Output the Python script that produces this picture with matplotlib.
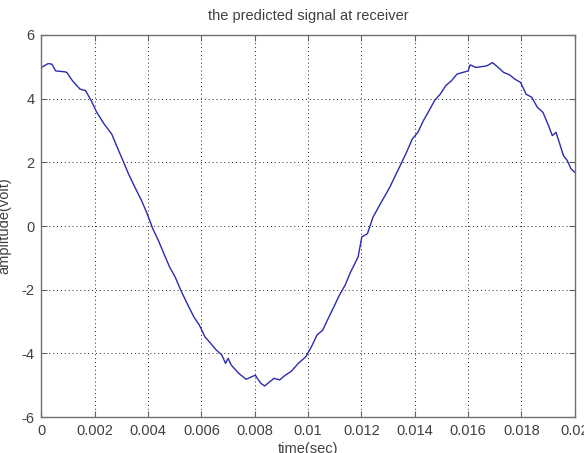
import matplotlib
matplotlib.use("Agg")
import matplotlib.pyplot as plt

plt.rcParams['font.family'] = ['Liberation Sans', 'DejaVu Sans']
plt.rcParams['axes.unicode_minus'] = False

# values
time_sec = [0.0, 0.000252, 0.000392, 0.000532, 0.000882, 0.000952, 0.001162, 0.001443,
            0.001653, 0.001863, 0.002073, 0.002353, 0.002633, 0.002843, 0.003053, 0.003263,
            0.003473, 0.003754, 0.003964, 0.004174, 0.004384, 0.004594, 0.004804, 0.005014,
            0.005224, 0.005434, 0.005714, 0.005924, 0.006134, 0.006345, 0.006555, 0.006765,
            0.006905, 0.007003, 0.007115, 0.007395, 0.007675, 0.007885, 0.008025, 0.008095,
            0.008235, 0.008375, 0.008515, 0.008725, 0.008936, 0.009146, 0.009356, 0.009636,
            0.009916, 0.010126, 0.010336, 0.010546, 0.010756, 0.010966, 0.011176, 0.011387,
            0.011597, 0.011877, 0.012017, 0.012227, 0.012437, 0.012647, 0.012857, 0.013067,
            0.013277, 0.013487, 0.013697, 0.013908, 0.014118, 0.014328, 0.014538, 0.014748,
            0.014958, 0.015168, 0.015378, 0.015588, 0.015798, 0.016008, 0.016078, 0.016289,
            0.016499, 0.016709, 0.016919, 0.017129, 0.017339, 0.017549, 0.017759, 0.017969,
            0.018179, 0.018389, 0.018599, 0.018810, 0.019020, 0.019160, 0.019300, 0.019440,
            0.019580, 0.019720, 0.019860, 0.020000]
amplitude = [4.98, 5.10, 5.08, 4.87, 4.84, 4.82, 4.56, 4.30,
             4.25, 3.94, 3.57, 3.20, 2.89, 2.47, 2.06, 1.64,
             1.27, 0.80, 0.39, -0.08, -0.45, -0.87, -1.28, -1.60,
             -2.01, -2.38, -2.85, -3.11, -3.48, -3.68, -3.89, -4.05,
             -4.31, -4.15, -4.36, -4.62, -4.81, -4.73, -4.68, -4.78,
             -4.94, -5.02, -4.92, -4.78, -4.83, -4.68, -4.57, -4.31,
             -4.10, -3.79, -3.42, -3.27, -2.90, -2.54, -2.17, -1.86,
             -1.44, -0.97, -0.34, -0.24, 0.28, 0.60, 0.91, 1.22,
             1.59, 1.95, 2.32, 2.73, 2.94, 3.31, 3.62, 3.94,
             4.14, 4.41, 4.56, 4.77, 4.82, 4.87, 5.06, 4.98,
             5.00, 5.03, 5.13, 4.98, 4.82, 4.75, 4.61, 4.51,
             4.14, 4.04, 3.73, 3.57, 3.15, 2.84, 2.94, 2.58,
             2.21, 2.06, 1.80, 1.69]

x_ticks = [0, 0.002, 0.004, 0.006, 0.008, 0.01, 0.012, 0.014, 0.016, 0.018, 0.02]
x_tick_labels = ["0", "0.002", "0.004", "0.006", "0.008", "0.01", "0.012",
                 "0.014", "0.016", "0.018", "0.02"]
y_ticks = [-6, -4, -2, 0, 2, 4, 6]
y_tick_labels = ["-6", "-4", "-2", "0", "2", "4", "6"]

text_grey = "#404040"

fig = plt.figure(figsize=(5.84, 4.53), dpi=100)
ax = fig.add_axes([0.071, 0.079, 0.913, 0.844])

ax.plot(time_sec, amplitude, color="#2b2bb0", linewidth=1.0)

ax.set_xlim(0, 0.02)
ax.set_ylim(-6, 6)
ax.set_xticks(x_ticks)
ax.set_xticklabels(x_tick_labels)
ax.set_yticks(y_ticks)
ax.set_yticklabels(y_tick_labels)

ax.grid(True, linestyle=(0, (1, 3)), color="#202020", linewidth=0.7)
ax.tick_params(direction="in", top=True, right=True, length=4, width=0.8,
               color="#606060", labelsize=10.5, labelcolor=text_grey, pad=5)
for spine in ax.spines.values():
    spine.set_color("#707070")
    spine.set_linewidth(1.0)

ax.set_title("the predicted signal at receiver", fontsize=10.5, color=text_grey, pad=11)
ax.set_xlabel("time(sec)", fontsize=10.5, color=text_grey, labelpad=3)
ax.set_ylabel("amplitude(volt)", fontsize=10.5, color=text_grey, labelpad=7)

fig.savefig("out.png", dpi=100)
